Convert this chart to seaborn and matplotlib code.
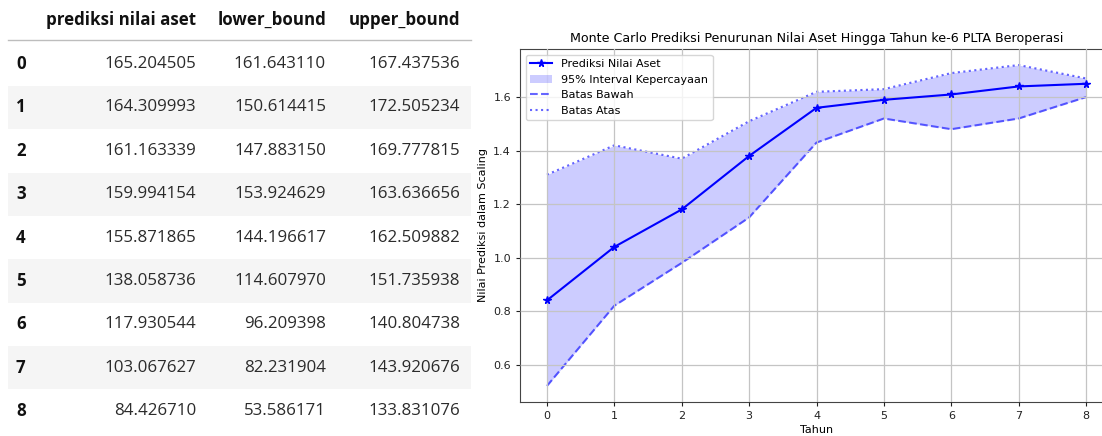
import matplotlib
matplotlib.use("Agg")
import matplotlib.pyplot as plt
from matplotlib.patches import Rectangle
from matplotlib.lines import Line2D
import seaborn as sns
import pandas as pd

# ---- chart data (scaled values) ----
tahun = [0, 1, 2, 3, 4, 5, 6, 7, 8]
prediksi = [0.84, 1.04, 1.18, 1.38, 1.56, 1.59, 1.61, 1.64, 1.65]
batas_bawah = [0.52, 0.82, 0.98, 1.15, 1.43, 1.52, 1.48, 1.52, 1.60]
batas_atas = [1.31, 1.42, 1.37, 1.51, 1.62, 1.63, 1.69, 1.72, 1.67]

# ---- table data ----
table_columns = ["prediksi nilai aset", "lower_bound", "upper_bound"]
table_index = [0, 1, 2, 3, 4, 5, 6, 7, 8]
tbl_prediksi = [165.204505, 164.309993, 161.163339, 159.994154, 155.871865,
                138.058736, 117.930544, 103.067627, 84.426710]
tbl_lower = [161.643110, 150.614415, 147.883150, 153.924629, 144.196617,
             114.607970, 96.209398, 82.231904, 53.586171]
tbl_upper = [167.437536, 172.505234, 169.777815, 163.636656, 162.509882,
             151.735938, 140.804738, 143.920676, 133.831076]

W, H = 1102, 436
fig = plt.figure(figsize=(W / 100, H / 100), dpi=100)


def fx(x):
    return x / W


def fy(y):
    return 1 - y / H


# ---------- table (left) ----------
tfont = ["Open Sans", "DejaVu Sans"]
row_y0 = 64
row_step = 43.4
band_h = 43.2
for i in range(len(table_index)):
    yc = row_y0 + i * row_step
    if i % 2 == 1:
        fig.patches.append(Rectangle((fx(8), fy(yc + band_h / 2)), fx(471) - fx(8),
                                     band_h / H, transform=fig.transFigure,
                                     facecolor="#f5f5f5", edgecolor="none", zorder=0))
fig.lines.append(Line2D([fx(8), fx(471)], [fy(40.5), fy(40.5)], transform=fig.transFigure,
                        color="#bdbdbd", lw=1.0))

col_right = [196, 326, 460]
for cx, name in zip(col_right, table_columns):
    fig.text(fx(cx), fy(20), name, ha="right", va="center", fontsize=12.2,
             fontweight="bold", family=tfont, color="#111111")

cols = [tbl_prediksi, tbl_lower, tbl_upper]
for i, idx in enumerate(table_index):
    yc = row_y0 + i * row_step
    fig.text(fx(16), fy(yc), str(idx), ha="left", va="center", fontsize=12.2,
             fontweight="bold", family=tfont, color="#111111")
    for cx, col in zip(col_right, cols):
        fig.text(fx(cx), fy(yc), f"{col[i]:.6f}", ha="right", va="center",
                 fontsize=12.2, family=tfont, color="#2b2b2b")

# ---------- chart (right) ----------
ax = fig.add_axes([fx(520), fy(402), (1113 - 520) / W, (402 - 49) / H])
df = pd.DataFrame({"Tahun": tahun, "prediksi": prediksi,
                   "bawah": batas_bawah, "atas": batas_atas})

sns.lineplot(data=df, x="Tahun", y="prediksi", ax=ax, color="blue", marker="*",
             markersize=5.5, markeredgecolor="blue", markerfacecolor="blue",
             markeredgewidth=1.0, linewidth=1.5, zorder=4)
ax.fill_between(df["Tahun"], df["bawah"], df["atas"], color="blue", alpha=0.2,
                linewidth=0)
sns.lineplot(data=df, x="Tahun", y="bawah", ax=ax, color="blue", alpha=0.6,
             linestyle="--", linewidth=1.5)
sns.lineplot(data=df, x="Tahun", y="atas", ax=ax, color="blue", alpha=0.6,
             linestyle=":", linewidth=1.5)

ax.set_xlim(-0.4, 8.4)
ax.set_xticks(tahun)
ax.grid(True, color="#c4c4c4", linewidth=0.9)
ax.set_axisbelow(False)
for s in ax.spines.values():
    s.set_color("#444444")
ax.tick_params(labelsize=8, colors="#222222", length=3)
ax.set_xlabel("Tahun", fontsize=8, labelpad=3)
ax.set_ylabel("Nilai Prediksi dalam Scaling", fontsize=8, labelpad=4)
ax.set_title("Monte Carlo Prediksi Penurunan Nilai Aset Hingga Tahun ke-6 PLTA Beroperasi",
             fontsize=9.1, pad=5)

handles = [
    Line2D([], [], color="blue", marker="*", markersize=5.5, markeredgewidth=1.0,
           linewidth=1.5),
    Rectangle((0, 0), 1, 1, facecolor="blue", alpha=0.2, edgecolor="none"),
    Line2D([], [], color="blue", alpha=0.6, linestyle="--", linewidth=1.5),
    Line2D([], [], color="blue", alpha=0.6, linestyle=":", linewidth=1.5),
]
labels = ["Prediksi Nilai Aset", "95% Interval Kepercayaan", "Batas Bawah", "Batas Atas"]
ax.legend(handles, labels, loc="upper left", fontsize=8, framealpha=0.8)

fig.savefig("out.png", dpi=100)
